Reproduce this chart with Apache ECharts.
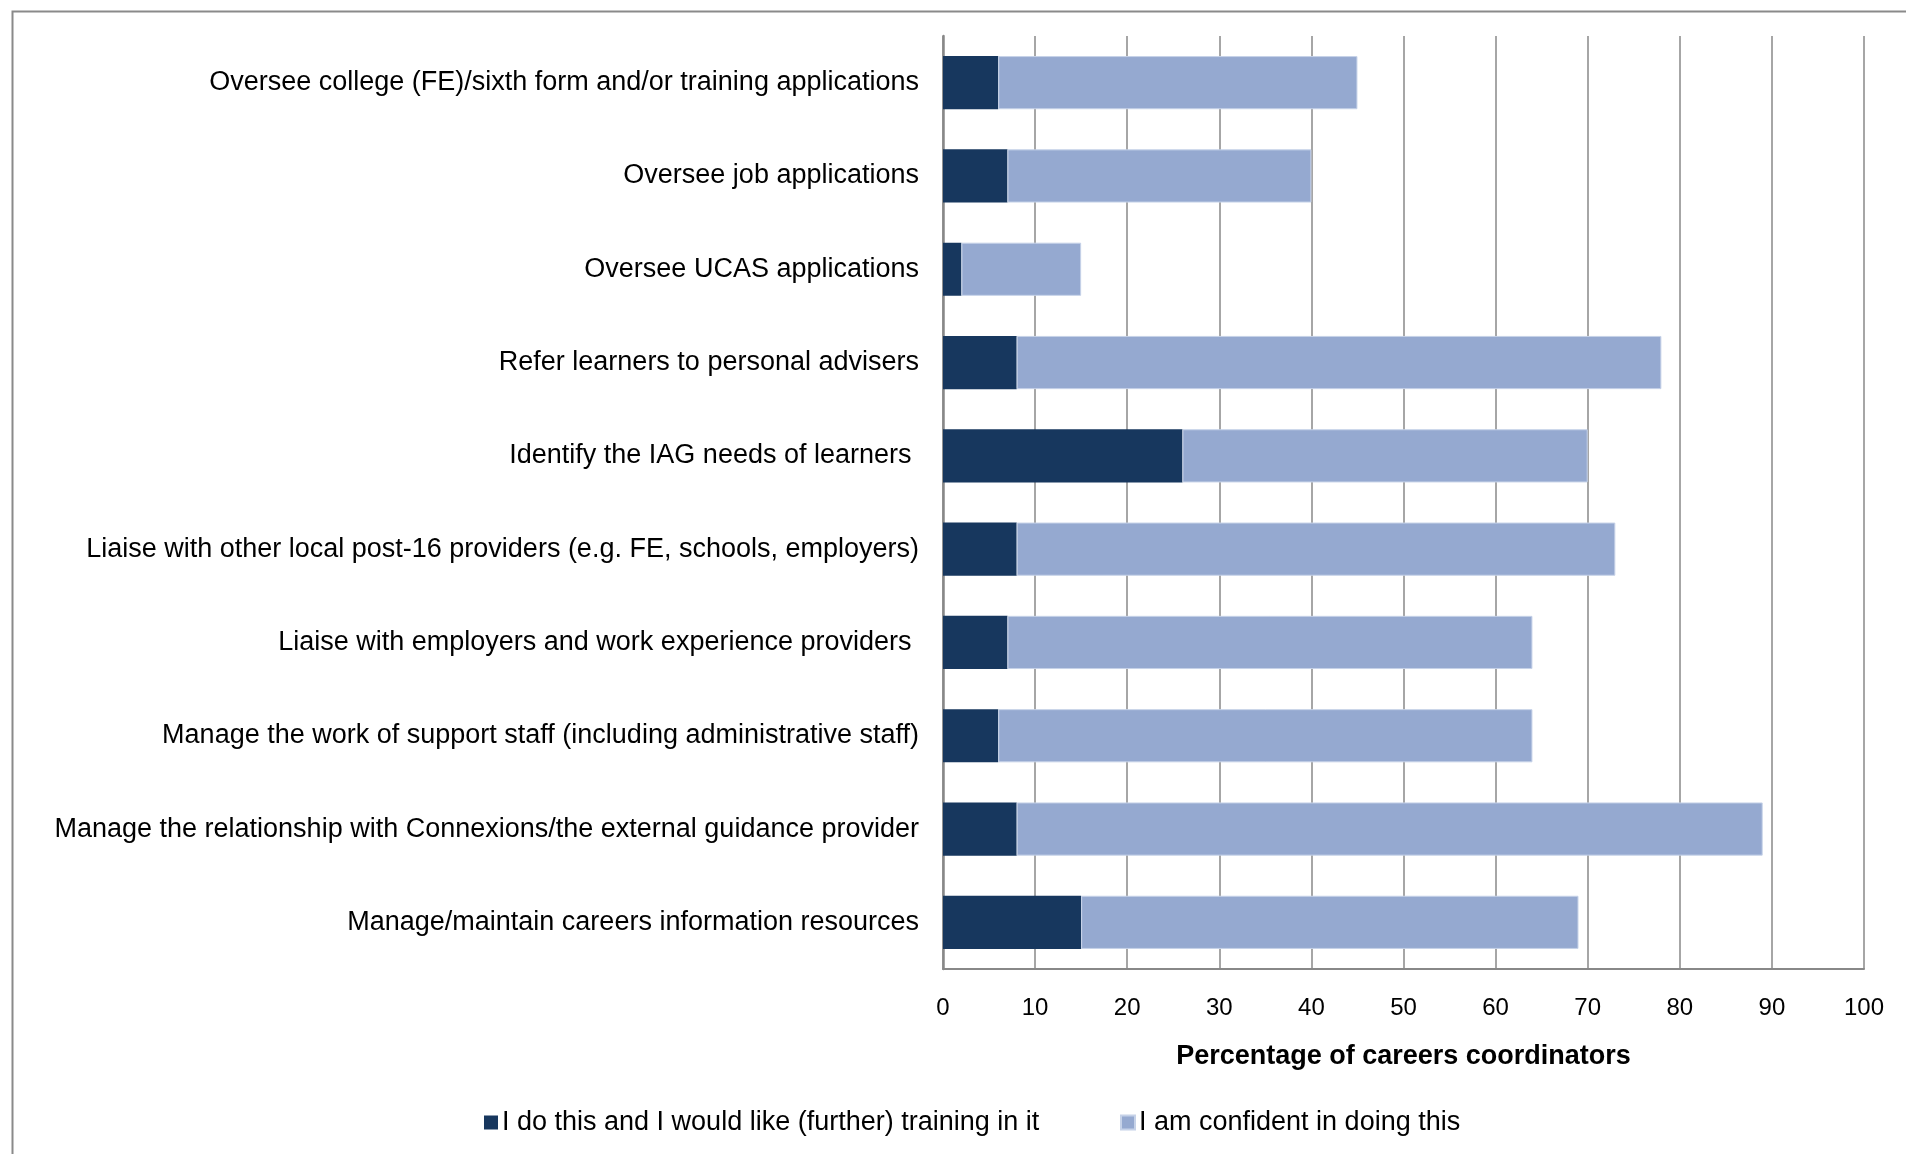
<!DOCTYPE html>
<html>
<head>
<meta charset="utf-8">
<title>Careers coordinators: confidence and training needs</title>
<script src="https://cdn.jsdelivr.net/npm/echarts@6/dist/echarts.min.js"></script>
<style>
  html, body { margin: 0; padding: 0; background: #ffffff; }
  #chart { width: 1906px; height: 1154px; }
</style>
</head>
<body>
<div id="chart"></div>
<script>
// Activities, listed top to bottom
var categories = [
  'Oversee college (FE)/sixth form and/or training applications',
  'Oversee job applications',
  'Oversee UCAS applications',
  'Refer learners to personal advisers',
  'Identify the IAG needs of learners ',
  'Liaise with other local post-16 providers (e.g. FE, schools, employers)',
  'Liaise with employers and work experience providers ',
  'Manage the work of support staff (including administrative staff)',
  'Manage the relationship with Connexions/the external guidance provider',
  'Manage/maintain careers information resources'
];

// Percentage of careers coordinators who do this and would like (further) training
var wantTraining = [6, 7, 2, 8, 26, 8, 7, 6, 8, 15];

// Percentage of careers coordinators who are confident in doing this
var confident = [39, 33, 13, 70, 44, 65, 57, 58, 81, 54];

var seriesNames = [
  'I do this and I would like (further) training in it',
  'I am confident in doing this'
];

var xTicks = { min: 0, max: 100, interval: 10 };

var FONT = "'Liberation Sans', Arial, Helvetica, sans-serif";
var GRID_GREY = '#888888';
var DARK = '#17375e';
var LIGHT = '#95a9d0';

function legendAt(left, name) {
  return {
    left: left,
    top: 1104,
    icon: 'rect',
    itemWidth: 14,
    itemHeight: 14,
    textStyle: { fontFamily: FONT, fontSize: 27, color: '#000000', padding: [0, 0, 0, -1] },
    data: [name]
  };
}

var chart = echarts.init(document.getElementById('chart'), null, { renderer: 'canvas' });

chart.setOption({
  backgroundColor: '#ffffff',
  animation: false,
  textStyle: { fontFamily: FONT, color: '#000000' },
  graphic: [{
    type: 'rect',
    left: 10,
    top: 9,
    shape: { width: 2000, height: 2000 },
    style: { fill: 'none', stroke: '#8a8a8a', lineWidth: 2 },
    silent: true
  }],
  grid: { left: 943, right: 42, top: 36, bottom: 185, containLabel: false },
  legend: [legendAt(479, seriesNames[0]), legendAt(1115, seriesNames[1])],
  xAxis: {
    type: 'value',
    min: xTicks.min,
    max: xTicks.max,
    interval: xTicks.interval,
    name: 'Percentage of careers coordinators',
    nameLocation: 'middle',
    nameGap: 74,
    nameTextStyle: { fontFamily: FONT, fontSize: 27, fontWeight: 'bold', color: '#000000' },
    axisLine: { show: true, lineStyle: { color: GRID_GREY, width: 2 } },
    axisTick: { show: false },
    axisLabel: { fontFamily: FONT, fontSize: 24, color: '#000000', margin: 27 },
    splitLine: { show: true, lineStyle: { color: GRID_GREY, width: 1.5 } }
  },
  yAxis: {
    type: 'category',
    inverse: true,
    data: categories,
    axisLine: { show: true, lineStyle: { color: GRID_GREY, width: 2.5 } },
    axisTick: { show: false },
    axisLabel: { fontFamily: FONT, fontSize: 27, color: '#000000', margin: 24 },
    splitLine: { show: false }
  },
  series: [
    {
      name: seriesNames[0],
      type: 'bar',
      stack: 'total',
      barWidth: '57%',
      data: wantTraining,
      itemStyle: { color: DARK }
    },
    {
      name: seriesNames[1],
      type: 'bar',
      stack: 'total',
      barWidth: '57%',
      data: confident,
      itemStyle: { color: LIGHT, borderColor: '#c6d2e8', borderWidth: 1 }
    }
  ]
});
</script>
</body>
</html>
